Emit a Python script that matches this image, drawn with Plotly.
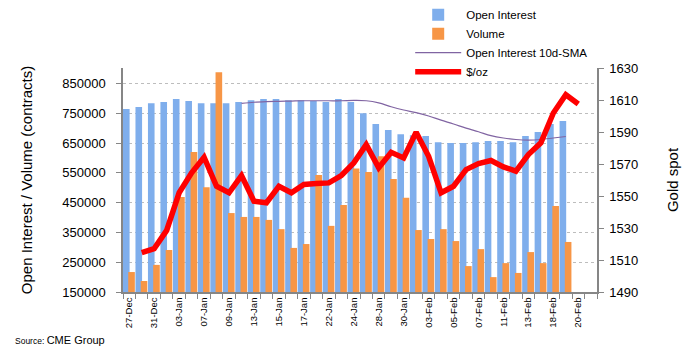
import plotly.graph_objects as go

dates = ["27-Dec", "30-Dec", "31-Dec", "02-Jan", "03-Jan", "06-Jan", "07-Jan", "08-Jan", "09-Jan", "10-Jan",
         "13-Jan", "14-Jan", "15-Jan", "16-Jan", "17-Jan", "21-Jan", "22-Jan", "23-Jan", "24-Jan", "27-Jan",
         "28-Jan", "29-Jan", "30-Jan", "31-Jan", "03-Feb", "04-Feb", "05-Feb", "06-Feb", "07-Feb", "10-Feb",
         "11-Feb", "12-Feb", "13-Feb", "14-Feb", "18-Feb", "19-Feb", "20-Feb", "21-Feb"]

open_interest = [764000, 771000, 784000, 788000, 798000, 791000, 784000, 784000, 784000, 788000,
                 794000, 798000, 798000, 794000, 794000, 791000, 788000, 798000, 788000, 750000,
                 714000, 694000, 680000, 676000, 674000, 653000, 650000, 650000, 653000, 657000,
                 657000, 653000, 674000, 687000, 714000, 724000, None, None]

volume = [217000, 187000, 241000, 291000, 469000, 620000, 502000, 888000, 415000, 402000,
          402000, 392000, 361000, 298000, 311000, 543000, 372000, 442000, 565000, 553000,
          606000, 529000, 466000, 358000, 328000, 361000, 321000, 237000, 294000, 200000,
          247000, 214000, 284000, 247000, 439000, 318000, None, None]

oi_sma = [None, None, None, None, None, None, None, None, None, 783000,
          787000, 789000, 790000, 791000, 792000, 792000, 792000, 792000, 793000, 792000,
          785000, 772000, 761000, 752000, 741000, 727000, 714000, 700000, 688000, 675000,
          667000, 662000, 660000, 662000, 667000, 672000, None, None]

gold = [None, 1514.6, 1517.1, 1528.5, 1552.0, 1564.5, 1574.2, 1556.1, 1552.0, 1562.8,
        1546.8, 1545.8, 1556.1, 1552.0, 1557.2, 1557.8, 1558.2, 1562.8, 1570.7, 1582.1,
        1567.6, 1577.3, 1573.8, 1589.8, 1574.8, 1552.0, 1556.1, 1566.5, 1570.3, 1572.2,
        1568.2, 1565.5, 1575.9, 1583.2, 1601.9, 1613.3, 1607.5, None]

left_ticks = [150000, 250000, 350000, 450000, 550000, 650000, 750000, 850000]
right_ticks = [1490, 1510, 1530, 1550, 1570, 1590, 1610, 1630]

idx = list(range(len(dates)))
label_idx = idx[::2]
label_text = dates[::2]

FONT = "Liberation Sans"
AX = "#868686"

# page has an 8px body margin: figure is shrunk and coordinates shifted accordingly
W, H = 682, 349
OFF = 8
ML, MT = 122.5 - OFF, 68 - OFF
MR = W - (597 - OFF)
MB = H - (292.5 - OFF)
pw = W - ML - MR
ph = H - MT - MB

fig = go.Figure()
fig.add_trace(go.Bar(x=idx, y=open_interest, name="Open Interest", marker_color="#7FAEEC",
                     offset=-0.5, width=0.53, marker_line_width=0))
fig.add_trace(go.Bar(x=idx, y=volume, name="Volume", marker_color="#F79646",
                     offset=-0.08, width=0.53, marker_line_width=0))
fig.add_trace(go.Scatter(x=idx, y=oi_sma, name="Open Interest 10d-SMA", mode="lines",
                         line=dict(color="#8064A2", width=1.2, shape="spline"), connectgaps=False))
fig.add_trace(go.Scatter(x=idx, y=gold, name="$/oz", mode="lines", yaxis="y2",
                         line=dict(color="#FF0000", width=5.5)))

fig.update_layout(
    width=W, height=H,
    margin=dict(l=ML, r=MR, t=MT, b=MB, autoexpand=False),
    paper_bgcolor="white", plot_bgcolor="white",
    barmode="overlay",
    font=dict(family=FONT, color="#000000"),
    showlegend=True,
    legend=dict(x=(410 - OFF - ML) / pw, y=(292.5 - OFF + 8) / ph, xanchor="left", yanchor="top",
                bgcolor="rgba(0,0,0,0)", font=dict(size=11.5, family=FONT), itemwidth=46,
                tracegroupgap=0),
    xaxis=dict(range=[-0.5, 37.5], tickmode="array", tickvals=label_idx, ticktext=label_text,
               tickangle=-90, tickfont=dict(size=9.5, family=FONT), ticks="", showgrid=False,
               showline=True, linecolor=AX, linewidth=1.5, zeroline=False,
               minor=dict(tickmode="linear", tick0=-0.5, dtick=1, ticks="outside", ticklen=5,
                          tickcolor=AX, showgrid=False)),
    yaxis=dict(range=[150000, 902000], tickmode="array", tickvals=left_ticks,
               ticktext=[str(v) for v in left_ticks], tickfont=dict(size=13, family=FONT),
               showline=True, linecolor=AX, linewidth=1.5, ticks="outside", ticklen=5, tickcolor=AX,
               ticklabelstandoff=8,
               showgrid=True, gridcolor="#BDBDBD", griddash="3px,3px", gridwidth=1, zeroline=False,
               title=dict(text="Open Interest / Volume (contracts)", font=dict(size=15, family=FONT),
                          standoff=26)),
    yaxis2=dict(range=[1490, 1630], overlaying="y", side="right", tickmode="array",
                tickvals=right_ticks, ticktext=[str(v) for v in right_ticks],
                tickfont=dict(size=13, family=FONT), showline=True, linecolor=AX, linewidth=1.5,
                ticks="outside", ticklen=5, tickcolor=AX, showgrid=False, zeroline=False,
                ticklabelstandoff=3,
                title=dict(text="Gold spot", font=dict(size=15, family=FONT), standoff=30)),
    annotations=[dict(text="<span style='font-size:8.5px'>Source: </span>CME Group",
                      x=(12 - OFF - ML) / pw, y=(292.5 - 341) / ph, xref="paper", yref="paper",
                      showarrow=False, font=dict(size=11, family=FONT),
                      xanchor="left", yanchor="middle")],
)

fig.write_html("out.html")
